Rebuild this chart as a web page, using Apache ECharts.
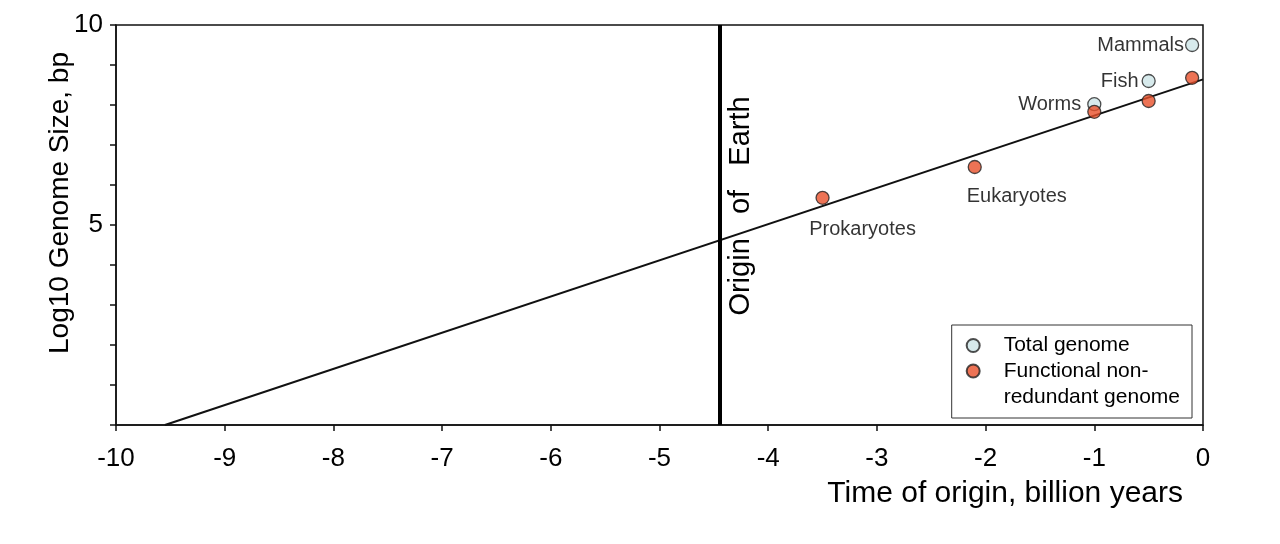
<!DOCTYPE html>
<html><head><meta charset="utf-8">
<script src="https://cdn.jsdelivr.net/npm/echarts@6/dist/echarts.min.js"></script>
<style>html,body{margin:0;padding:0;background:#fff}#c{width:1280px;height:544px}</style>
</head><body><div id="c"></div>
<script>
// Data
const totalNames = ['Mammals', 'Fish', 'Worms'];
const totalX = [-0.1, -0.5, -1.0];
const totalY = [9.5, 8.6, 8.02];
const funcNames = ['', '', '', 'Eukaryotes', 'Prokaryotes'];
const funcX = [-0.1, -0.5, -1.0, -2.1, -3.5];
const funcY = [8.68, 8.1, 7.83, 6.45, 5.68];
const fitX = [-9.55, 0];
const fitY = [0, 8.64];
const earthOriginX = -4.45;
const xTicks = [-10, -9, -8, -7, -6, -5, -4, -3, -2, -1, 0];
const yLabeled = [5, 10];

const F = 'Liberation Sans, Arial, sans-serif';
const labelPos = {
  Mammals: {position: 'left', distance: 1},
  Fish: {position: 'left', distance: 3},
  Worms: {position: 'left', distance: 6},
  Eukaryotes: {position: 'bottom', distance: 12, offset: [42, 0]},
  Prokaryotes: {position: 'bottom', distance: 15, offset: [40, 0]}
};
function pts(xs, ys, names) {
  return xs.map((x, i) => {
    const n = names[i];
    const o = {value: [x, ys[i]], name: n};
    if (n) o.label = Object.assign({show: true, formatter: n, color: '#000', fontSize: 20, fontFamily: F}, labelPos[n]);
    return o;
  });
}

const chart = echarts.init(document.getElementById('c'));
chart.setOption({
  animation: false,
  grid: {left: 116, right: 77, top: 25, bottom: 119, show: true, borderColor: '#111', borderWidth: 1.5},
  xAxis: {
    type: 'value', min: xTicks[0], max: xTicks[xTicks.length - 1], interval: 1,
    axisLine: {onZero: false, lineStyle: {color: '#111', width: 1.5}},
    axisTick: {show: true, length: 6, lineStyle: {color: '#111', width: 1.5}},
    axisLabel: {fontSize: 26, color: '#000', fontFamily: F, margin: 21},
    splitLine: {show: false}
  },
  yAxis: {
    type: 'value', min: 0, max: 10, interval: 1,
    axisLine: {show: true, onZero: false, lineStyle: {color: '#111', width: 1.5}},
    axisTick: {show: true, length: 6, lineStyle: {color: '#111', width: 1.5}},
    axisLabel: {fontSize: 26, color: '#000', fontFamily: F, margin: 13,
      formatter: v => yLabeled.indexOf(v) >= 0 ? String(v) : ''},
    splitLine: {show: false}
  },
  legend: {
    orient: 'vertical', right: 88, top: 325, itemWidth: 13, itemHeight: 13, itemGap: -26,
    borderColor: '#333', borderWidth: 1, padding: [7, 12, 8, 14],
    textStyle: {fontSize: 21, color: '#000', fontFamily: F, lineHeight: 25, padding: [0, 0, 0, 19]},
    formatter: n => n === 'Functional non-redundant genome' ? '{b|Functional non-\nredundant genome}' : n,
    data: [
      {name: 'Total genome', icon: 'circle'},
      {name: 'Functional non-redundant genome', icon: 'circle',
        textStyle: {rich: {b: {fontSize: 21, lineHeight: 26, fontFamily: F, color: '#000'}}, padding: [26, 0, 0, 19]}}
    ]
  },
  graphic: [
    {type: 'text', x: 60, y: 203, rotation: Math.PI / 2, style: {text: 'Log10 Genome Size, bp', fontSize: 28, fontFamily: F, fill: '#000', textAlign: 'center', textVerticalAlign: 'middle'}},
    {type: 'text', x: 741, y: 206, rotation: Math.PI / 2, style: {text: 'Origin   of   Earth', fontSize: 29, fontFamily: F, fill: '#000', textAlign: 'center', textVerticalAlign: 'middle'}},
    {type: 'text', x: 1183, y: 494, style: {text: 'Time of origin, billion years', fontSize: 30, fontFamily: F, fill: '#000', textAlign: 'right', textVerticalAlign: 'middle'}}
  ],
  series: [
    {
      type: 'line', name: 'fit', data: fitX.map((x, i) => [x, fitY[i]]),
      symbol: 'none', lineStyle: {color: '#111', width: 2}, z: 2,
      markLine: {symbol: 'none', silent: true, label: {show: false},
        lineStyle: {color: '#000', width: 4, type: 'solid'}, data: [{xAxis: earthOriginX}]}
    },
    {
      type: 'scatter', name: 'Total genome', data: pts(totalX, totalY, totalNames),
      symbolSize: 13, itemStyle: {color: '#cde5e7', borderColor: '#222', borderWidth: 1.3}, z: 3
    },
    {
      type: 'scatter', name: 'Functional non-redundant genome', data: pts(funcX, funcY, funcNames),
      symbolSize: 13, itemStyle: {color: '#e8502a', borderColor: '#222', borderWidth: 1.3}, z: 4
    }
  ]
});
</script></body></html>
